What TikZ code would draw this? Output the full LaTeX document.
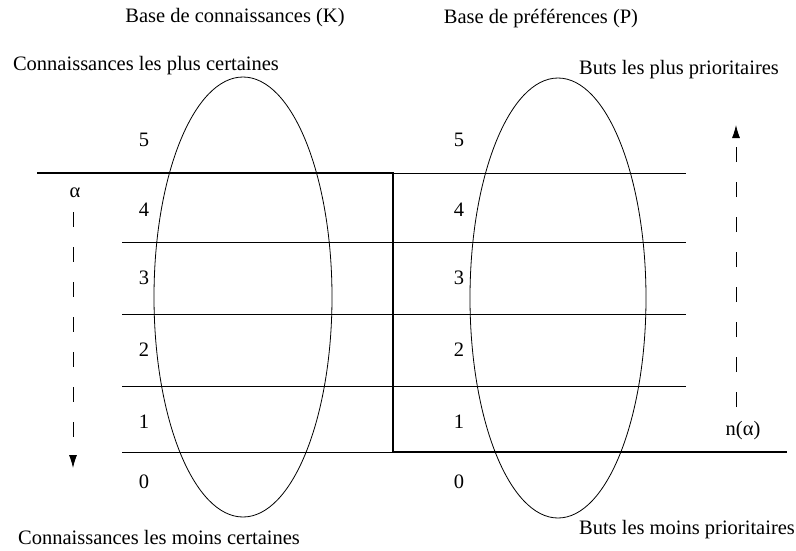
\documentclass[tikz,border=0pt]{standalone}
\usepackage{fontspec}
\setmainfont{Liberation Serif}
\usetikzlibrary{arrows.meta,shapes.geometric}
\begin{document}
\begin{tikzpicture}[x=1pt,y=-1pt,
  lbl/.style={inner sep=0pt,font=\fontsize{20.5}{24}\selectfont},
  num/.style={inner sep=0pt,font=\fontsize{20.5}{24}\selectfont},
  oval/.style={draw,ellipse,line width=0.8pt,inner sep=0pt},
  level/.style={line width=0.8pt},
  cut/.style={line width=2.6pt},
  darrow/.style={line width=0.8pt,dash pattern=on 15pt off 20pt,-{Latex[length=13pt,width=8pt]}}]
\useasboundingbox (0,0) rectangle (796,550);
% titles
\node[lbl] (tK) at (235,18) {Base de connaissances (K)};
\node[lbl] (tP) at (541,18) {Base de préférences (P)};
\node[lbl] (topK) at (146,66) {Connaissances les plus certaines};
\node[lbl] (topP) at (679,70) {Buts les plus prioritaires};
\node[lbl] (botK) at (159,537) {Connaissances les moins certaines};
\node[lbl] (botP) at (687,530) {Buts les moins prioritaires};
% ellipses
\node[oval,minimum width=178pt,minimum height=440pt] (K) at (243,297) {};
\node[oval,minimum width=176pt,minimum height=440pt] (P) at (558,298) {};
% level lines
\coordinate (L0) at (122,242); \coordinate (M0) at (393,242); \coordinate (R0) at (686,242);
\coordinate (L1) at (122,314); \coordinate (M1) at (393,314); \coordinate (R1) at (686,314);
\coordinate (L2) at (122,386); \coordinate (M2) at (393,386); \coordinate (R2) at (686,386);
\coordinate (L3) at (122,452); \coordinate (M3) at (393,452);
\coordinate (M5) at (393,173); \coordinate (R5) at (686,173);
\coordinate (A) at (37,173); \coordinate (E) at (787,452);
\draw[level] (L0) -- (R0);
\draw[level] (L1) -- (R1);
\draw[level] (L2) -- (R2);
\draw[level] (L3) -- (M3);
\draw[level] (M5) -- (R5);
\draw[cut] (A) -- (M5) -- (M3) -- (E);
% numbers
\foreach \n/\y in {5/140,4/210,3/278,2/350,1/422,0/482}{
  \node[num] (k\n) at (144,\y) {\n};
  \node[num] (p\n) at (459,\y) {\n};
}
% arrows
\node[lbl] (alpha) at (75,193) {α};
\coordinate (a1) at (73,212); \coordinate (a2) at (73,468);
\draw[darrow] (a1) -- (a2);
\node[lbl] (nalpha) at (743,431) {n(α)};
\coordinate (b1) at (736,407); \coordinate (b2) at (736,125);
\draw[darrow] (b1) -- (b2);
\end{tikzpicture}
\end{document}
